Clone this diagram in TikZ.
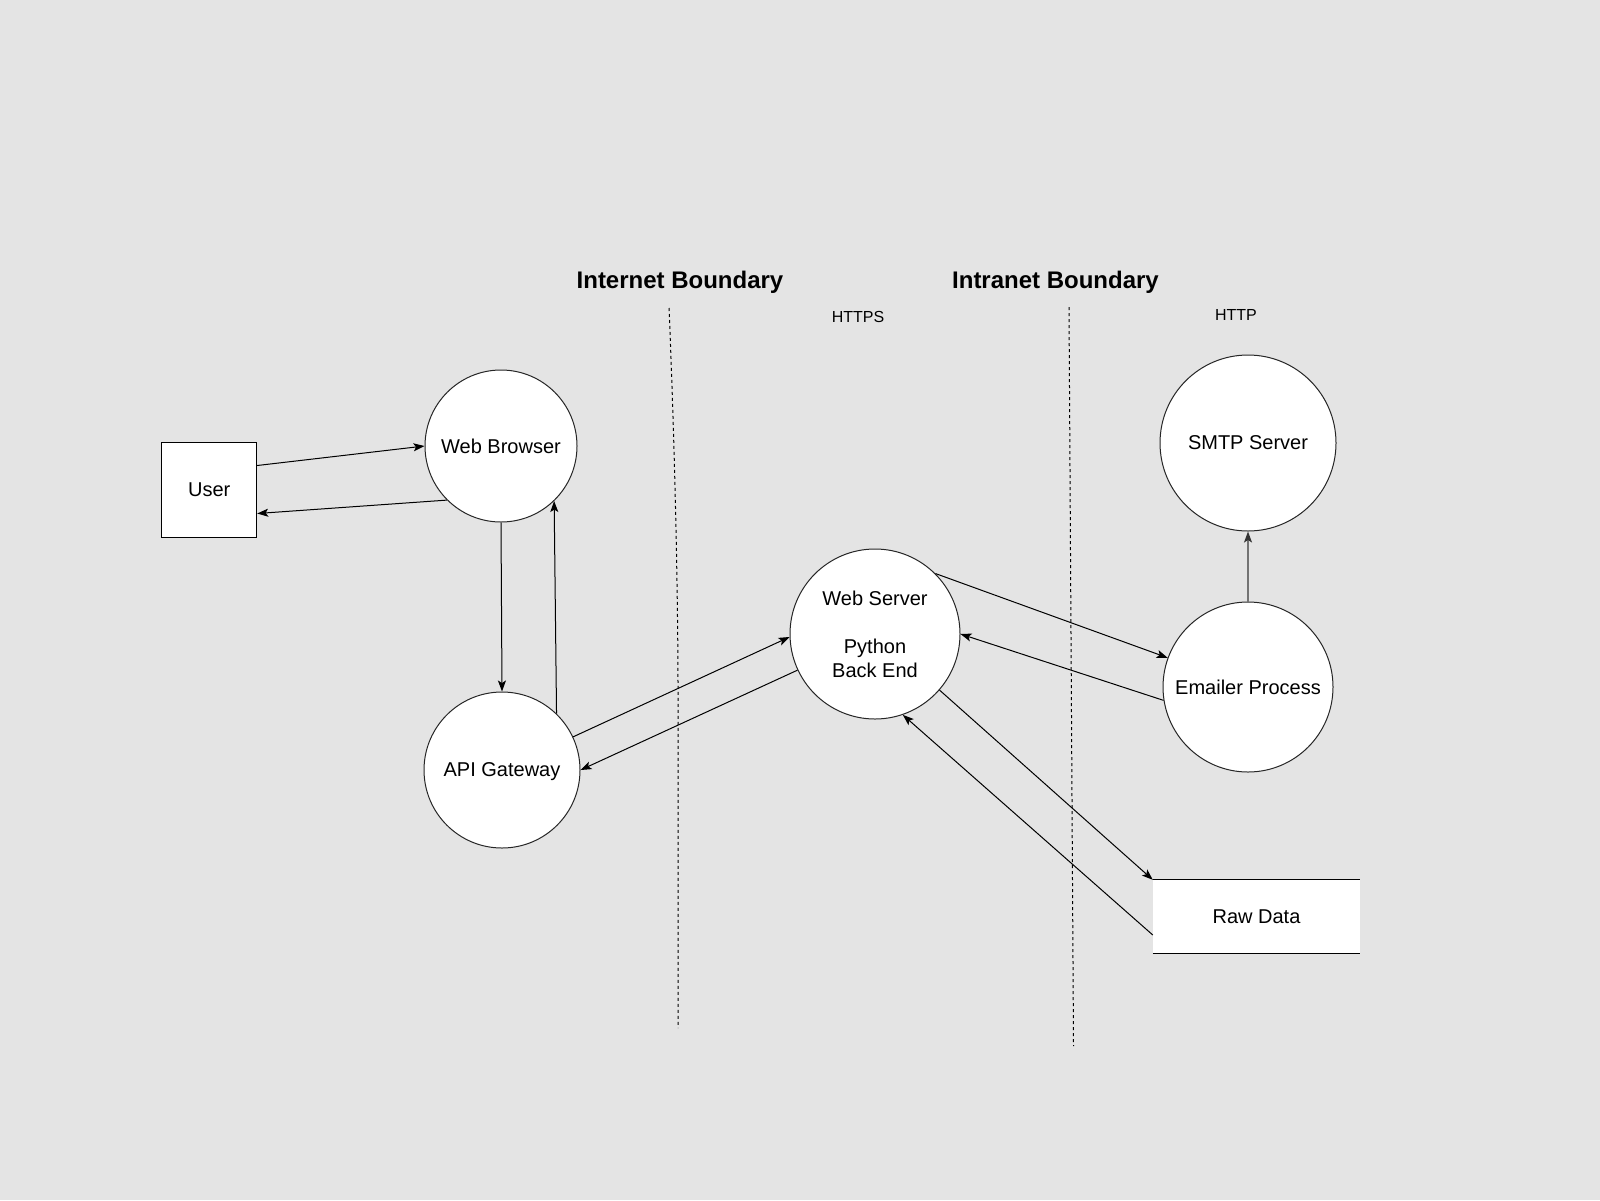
\documentclass[tikz,border=0pt]{standalone}
\usepackage{fontspec}
\setmainfont{Liberation Sans}
\usetikzlibrary{arrows.meta}
\definecolor{bg}{HTML}{E4E4E4}
\begin{document}
\begin{tikzpicture}[x=1pt,y=-1pt,
  every node/.style={font=\fontsize{20}{24}\selectfont, inner sep=0pt},
  proc/.style={circle, draw=black!85, line width=1pt, fill=white, align=center},
  ext/.style={rectangle, draw=black, line width=1pt, fill=white},
  flow/.style={-{Stealth[length=11pt,width=8pt,inset=2.5pt]}, line width=1pt, black},
  bound/.style={dash pattern=on 3pt off 3pt, line width=1pt},
  title/.style={font=\bfseries\fontsize{24}{28}\selectfont, anchor=base},
  proto/.style={font=\fontsize{16}{19}\selectfont, anchor=base}]
\fill[bg] (0,0) rectangle (1600,1200);
\useasboundingbox (0,0) rectangle (1600,1200);

% boundaries
\draw[bound] (669,308) .. controls (675,450) and (678,600) .. (678,690) -- (678,1028);
\draw[bound] (1069,307) -- (1073.5,1046);

\node[title] (inettitle) at (680,288) {Internet Boundary};
\node[title] (intratitle) at (1055.5,288) {Intranet Boundary};
\node[proto] (https) at (858,322) {HTTPS};
\node[proto] (http) at (1236,320) {HTTP};

% nodes
\node[ext, minimum width=95, minimum height=95] (user) at (209.2,489.5) {User};
\node[proc, minimum size=152] (browser) at (501,446) {Web Browser};
\node[proc, minimum size=156, text depth=0pt] (api) at (502,770) {API Gateway};
\node[proc, minimum size=170] (ws) at (875,634) {Web Server\\[24pt]Python\\Back End};
\node[proc, minimum size=176] (smtp) at (1248,443) {SMTP Server};
\node[proc, minimum size=170] (emailer) at (1248,687) {Emailer Process};
\node[fill=white, minimum width=207, minimum height=73] (raw) at (1256.5,916.5) {Raw Data};
\draw[line width=1pt] (raw.north west) -- (raw.north east);
\draw[line width=1pt] (raw.south west) -- (raw.south east);

% connectors
\draw[flow] ([yshift=24pt]user.east) -- (browser.west);
\draw[flow] (browser.225) -- ([yshift=-24pt]user.east);
\draw[flow] (browser.south) -- (api.north);
\draw[flow] (api.46) -- (browser.-46);
\draw[flow] (api.25) -- (ws.182);
\draw[flow] (ws.205) -- (api.east);
\draw[flow] (ws.45) -- (emailer.160);
\draw[flow] (emailer.189) -- (ws.east);
\draw[-{Stealth[length=11pt,width=8pt,inset=2.5pt,color=black!80]}, line width=1.2pt, draw=black!55] (emailer.north) -- (smtp.south);
\draw[flow] (ws.-41.5) -- (raw.north west);
\draw[flow] ([yshift=-18.5pt]raw.west) -- (ws.-71.4);
\end{tikzpicture}
\end{document}
